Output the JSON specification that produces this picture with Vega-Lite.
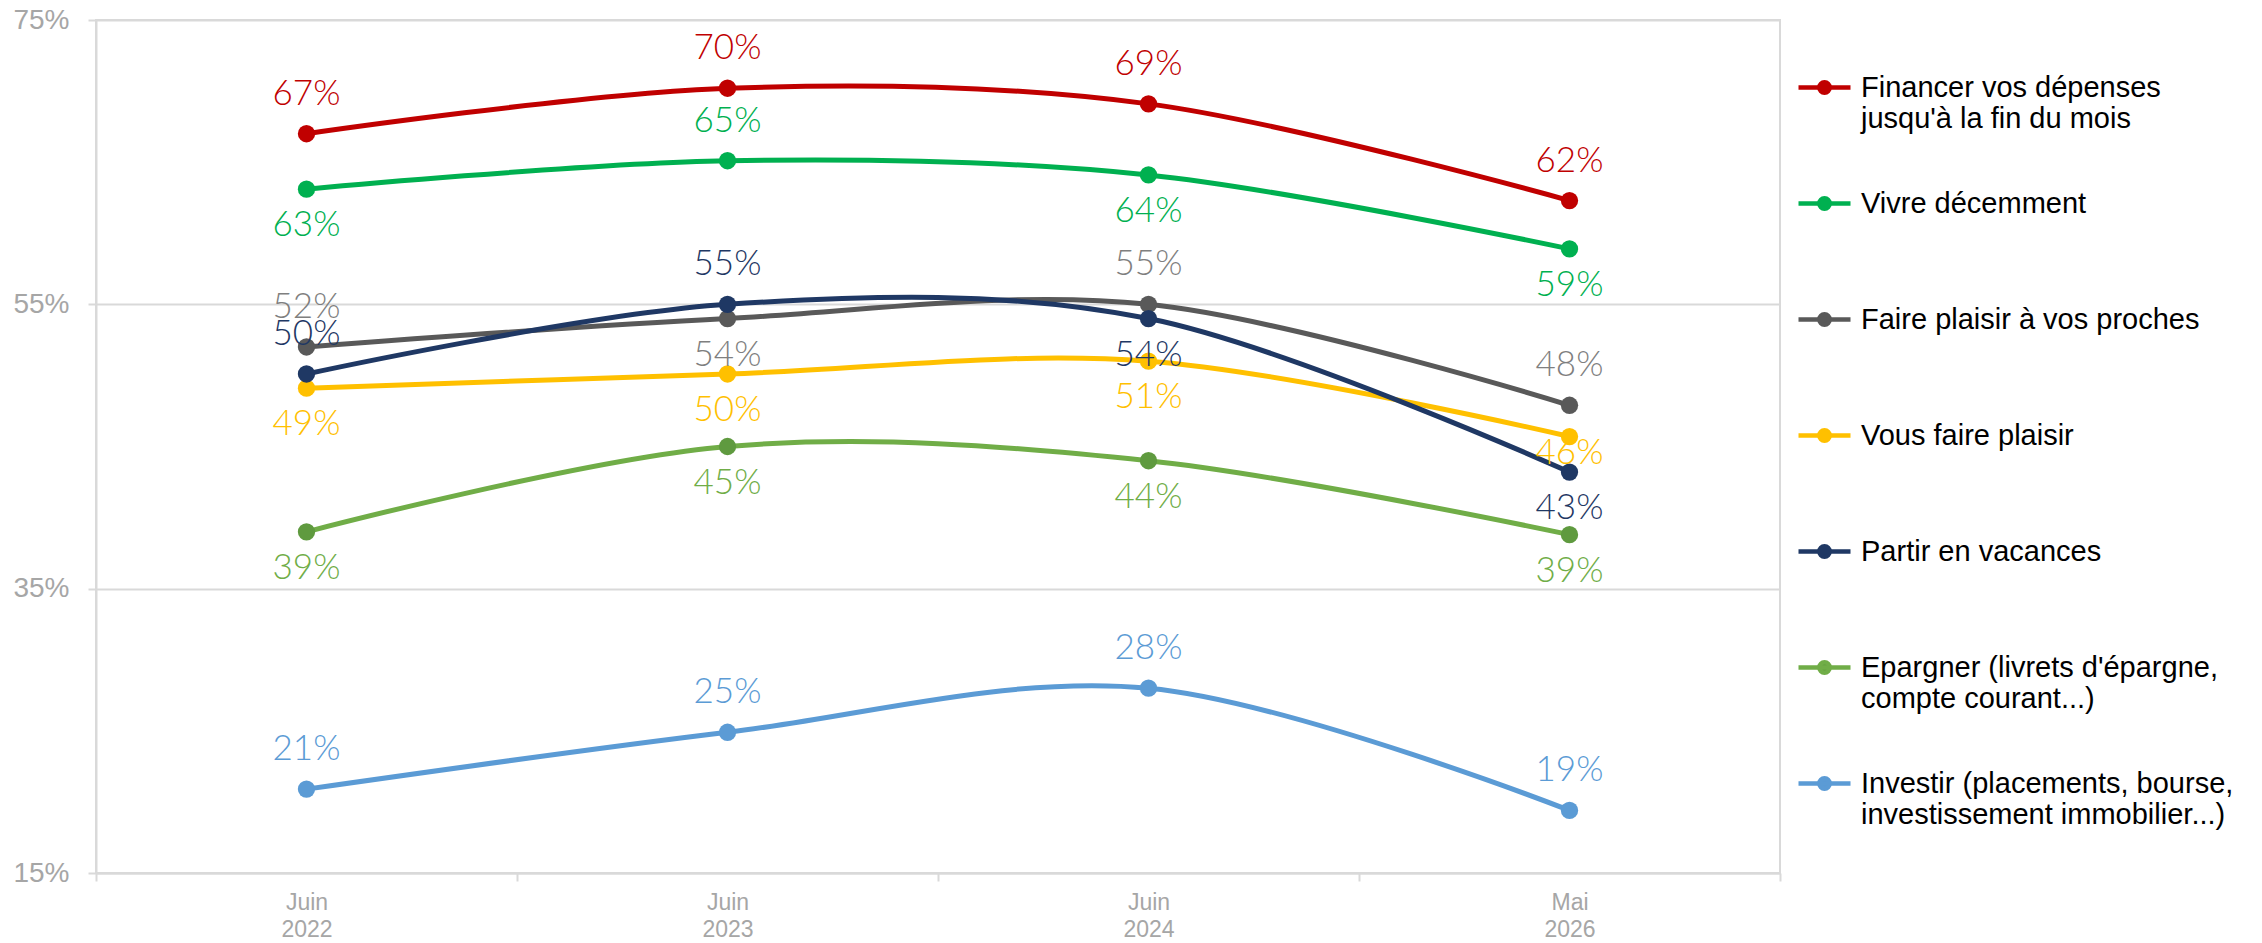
{
  "$schema": "https://vega.github.io/schema/vega-lite/v6.json",
  "width": 1684,
  "height": 853,
  "autosize": {"type": "none"},
  "padding": {"left": 96, "top": 20, "right": 482, "bottom": 70},
  "background": "white",
  "config": {
    "view": {"stroke": "#D9D9D9", "strokeWidth": 2},
    "font": "Liberation Sans"
  },
  "data": {
    "values": [
      {"s": "Financer vos dépenses jusqu'à la fin du mois", "d": "Juin 2022", "v": 0.67},
      {"s": "Financer vos dépenses jusqu'à la fin du mois", "d": "Juin 2023", "v": 0.702},
      {"s": "Financer vos dépenses jusqu'à la fin du mois", "d": "Juin 2024", "v": 0.691},
      {"s": "Financer vos dépenses jusqu'à la fin du mois", "d": "Mai 2026", "v": 0.623},
      {"s": "Vivre décemment", "d": "Juin 2022", "v": 0.631},
      {"s": "Vivre décemment", "d": "Juin 2023", "v": 0.651},
      {"s": "Vivre décemment", "d": "Juin 2024", "v": 0.641},
      {"s": "Vivre décemment", "d": "Mai 2026", "v": 0.589},
      {"s": "Faire plaisir à vos proches", "d": "Juin 2022", "v": 0.52},
      {"s": "Faire plaisir à vos proches", "d": "Juin 2023", "v": 0.54},
      {"s": "Faire plaisir à vos proches", "d": "Juin 2024", "v": 0.55},
      {"s": "Faire plaisir à vos proches", "d": "Mai 2026", "v": 0.479},
      {"s": "Vous faire plaisir", "d": "Juin 2022", "v": 0.491},
      {"s": "Vous faire plaisir", "d": "Juin 2023", "v": 0.501},
      {"s": "Vous faire plaisir", "d": "Juin 2024", "v": 0.51},
      {"s": "Vous faire plaisir", "d": "Mai 2026", "v": 0.457},
      {"s": "Partir en vacances", "d": "Juin 2022", "v": 0.501},
      {"s": "Partir en vacances", "d": "Juin 2023", "v": 0.55},
      {"s": "Partir en vacances", "d": "Juin 2024", "v": 0.54},
      {"s": "Partir en vacances", "d": "Mai 2026", "v": 0.432},
      {"s": "Epargner (livrets d'épargne, compte courant...)", "d": "Juin 2022", "v": 0.39},
      {"s": "Epargner (livrets d'épargne, compte courant...)", "d": "Juin 2023", "v": 0.45},
      {"s": "Epargner (livrets d'épargne, compte courant...)", "d": "Juin 2024", "v": 0.44},
      {"s": "Epargner (livrets d'épargne, compte courant...)", "d": "Mai 2026", "v": 0.388},
      {"s": "Investir (placements, bourse, investissement immobilier...)", "d": "Juin 2022", "v": 0.209},
      {"s": "Investir (placements, bourse, investissement immobilier...)", "d": "Juin 2023", "v": 0.249},
      {"s": "Investir (placements, bourse, investissement immobilier...)", "d": "Juin 2024", "v": 0.28},
      {"s": "Investir (placements, bourse, investissement immobilier...)", "d": "Mai 2026", "v": 0.194}
    ]
  },
  "encoding": {
    "x": {
      "field": "d",
      "type": "ordinal",
      "sort": null,
      "scale": {"type": "band", "paddingInner": 0, "paddingOuter": 0},
      "axis": {
        "title": null,
        "labelAngle": 0,
        "labelExpr": "split(datum.label, ' ')",
        "labelFont": "Liberation Sans",
        "labelFontSize": 23,
        "labelColor": "#A6A6A6",
        "labelLineHeight": 27,
        "labelBaseline": "top",
        "labelPadding": 10,
        "tickBand": "extent",
        "tickSize": 8,
        "tickColor": "#D9D9D9",
        "tickWidth": 2,
        "domainColor": "#D9D9D9",
        "domainWidth": 2,
        "grid": false
      }
    },
    "y": {
      "field": "v",
      "type": "quantitative",
      "scale": {"domain": [0.15, 0.75], "nice": false, "zero": false},
      "axis": {
        "title": null,
        "values": [0.15, 0.35, 0.55, 0.75],
        "format": ".0%",
        "labelFont": "Liberation Sans",
        "labelFontSize": 28,
        "labelColor": "#A6A6A6",
        "labelPadding": 19,
        "tickSize": 8,
        "tickColor": "#D9D9D9",
        "tickWidth": 2,
        "domainColor": "#D9D9D9",
        "domainWidth": 2,
        "grid": true,
        "gridColor": "#D9D9D9",
        "gridWidth": 2
      }
    }
  },
  "layer": [
    {
      "mark": {"type": "line", "interpolate": "cardinal", "strokeWidth": 5},
      "encoding": {
        "stroke": {
          "field": "s",
          "type": "nominal",
          "scale": {
            "domain": ["Financer vos dépenses jusqu'à la fin du mois", "Vivre décemment", "Faire plaisir à vos proches", "Vous faire plaisir", "Partir en vacances", "Epargner (livrets d'épargne, compte courant...)", "Investir (placements, bourse, investissement immobilier...)"],
            "range": ["#C00000", "#00B050", "#595959", "#FFC000", "#1F3864", "#70AD47", "#5B9BD5"]
          },
          "legend": {
            "orient": "none",
            "legendX": 1700,
            "legendY": 39,
            "title": null,
            "padding": 0,
            "rowPadding": 41,
            "symbolType": "M-1,0H1M0.2,0A0.2,0.2,0,1,1,-0.2,0A0.2,0.2,0,1,1,0.2,0Z",
            "symbolSize": 2704,
            "symbolStrokeWidth": 4.5,
            "labelFont": "Liberation Sans",
            "labelFontSize": 29,
            "labelColor": "#000000",
            "labelLineHeight": 34,
            "labelLimit": 0,
            "labelOffset": 8,
            "labelExpr": "indexof(datum.label,'Financer')==0 ? [\"Financer vos dépenses\", \"jusqu'à la fin du mois\"] : indexof(datum.label,'Epargner')==0 ? [\"Epargner (livrets d'épargne,\", \"compte courant...)\"] : indexof(datum.label,'Investir')==0 ? [\"Investir (placements, bourse,\", \"investissement immobilier...)\"] : [datum.label, '']",
            "encode": {
              "symbols": {"update": {"fill": {"scale": "stroke", "field": "value"}, "stroke": {"scale": "stroke", "field": "value"}}}
            }
          }
        }
      }
    },
    {
      "mark": {"type": "point", "filled": true, "size": 300, "opacity": 1},
      "encoding": {
        "fill": {
          "field": "s",
          "type": "nominal",
          "scale": {
            "domain": ["Financer vos dépenses jusqu'à la fin du mois", "Vivre décemment", "Faire plaisir à vos proches", "Vous faire plaisir", "Partir en vacances", "Epargner (livrets d'épargne, compte courant...)", "Investir (placements, bourse, investissement immobilier...)"],
            "range": ["#C00000", "#00B050", "#595959", "#FFC000", "#1F3864", "#5F9A3F", "#5B9BD5"]
          },
          "legend": null
        }
      }
    },
    {
      "transform": [{"filter": "indexof(datum.s,'Financer')==0 || indexof(datum.s,'Investir')==0 || (indexof(datum.s,'Vivre')==0 && datum.d=='Juin 2023') || (indexof(datum.s,'Faire plaisir')==0 && datum.d!='Juin 2023') || (indexof(datum.s,'Partir')==0 && (datum.d=='Juin 2022' || datum.d=='Juin 2023'))"}],
      "mark": {"type": "text", "font": "Lato", "fontWeight": 300, "fontSize": 35, "baseline": "middle", "align": "center", "dy": -40},
      "encoding": {
        "text": {"field": "v", "type": "quantitative", "format": ".0%"},
        "color": {
          "field": "s",
          "type": "nominal",
          "scale": {
            "domain": ["Financer vos dépenses jusqu'à la fin du mois", "Vivre décemment", "Faire plaisir à vos proches", "Vous faire plaisir", "Partir en vacances", "Epargner (livrets d'épargne, compte courant...)", "Investir (placements, bourse, investissement immobilier...)"],
            "range": ["#C00000", "#00B050", "#7F7F7F", "#FFC000", "#1F3864", "#70AD47", "#5B9BD5"]
          },
          "legend": null
        }
      }
    },
    {
      "transform": [{"filter": "!(indexof(datum.s,'Financer')==0 || indexof(datum.s,'Investir')==0 || (indexof(datum.s,'Vivre')==0 && datum.d=='Juin 2023') || (indexof(datum.s,'Faire plaisir')==0 && datum.d!='Juin 2023') || (indexof(datum.s,'Partir')==0 && (datum.d=='Juin 2022' || datum.d=='Juin 2023'))) && !(indexof(datum.s,'Vous faire')==0 && datum.d=='Mai 2026')"}],
      "mark": {"type": "text", "font": "Lato", "fontWeight": 300, "fontSize": 35, "baseline": "middle", "align": "center", "dy": 36},
      "encoding": {
        "text": {"field": "v", "type": "quantitative", "format": ".0%"},
        "color": {"field": "s", "type": "nominal", "legend": null}
      }
    },
    {
      "transform": [{"filter": "indexof(datum.s,'Vous faire')==0 && datum.d=='Mai 2026'"}],
      "mark": {"type": "text", "font": "Lato", "fontWeight": 300, "fontSize": 35, "baseline": "middle", "align": "center", "dy": 16},
      "encoding": {
        "text": {"field": "v", "type": "quantitative", "format": ".0%"},
        "color": {"field": "s", "type": "nominal", "legend": null}
      }
    }
  ]
}
